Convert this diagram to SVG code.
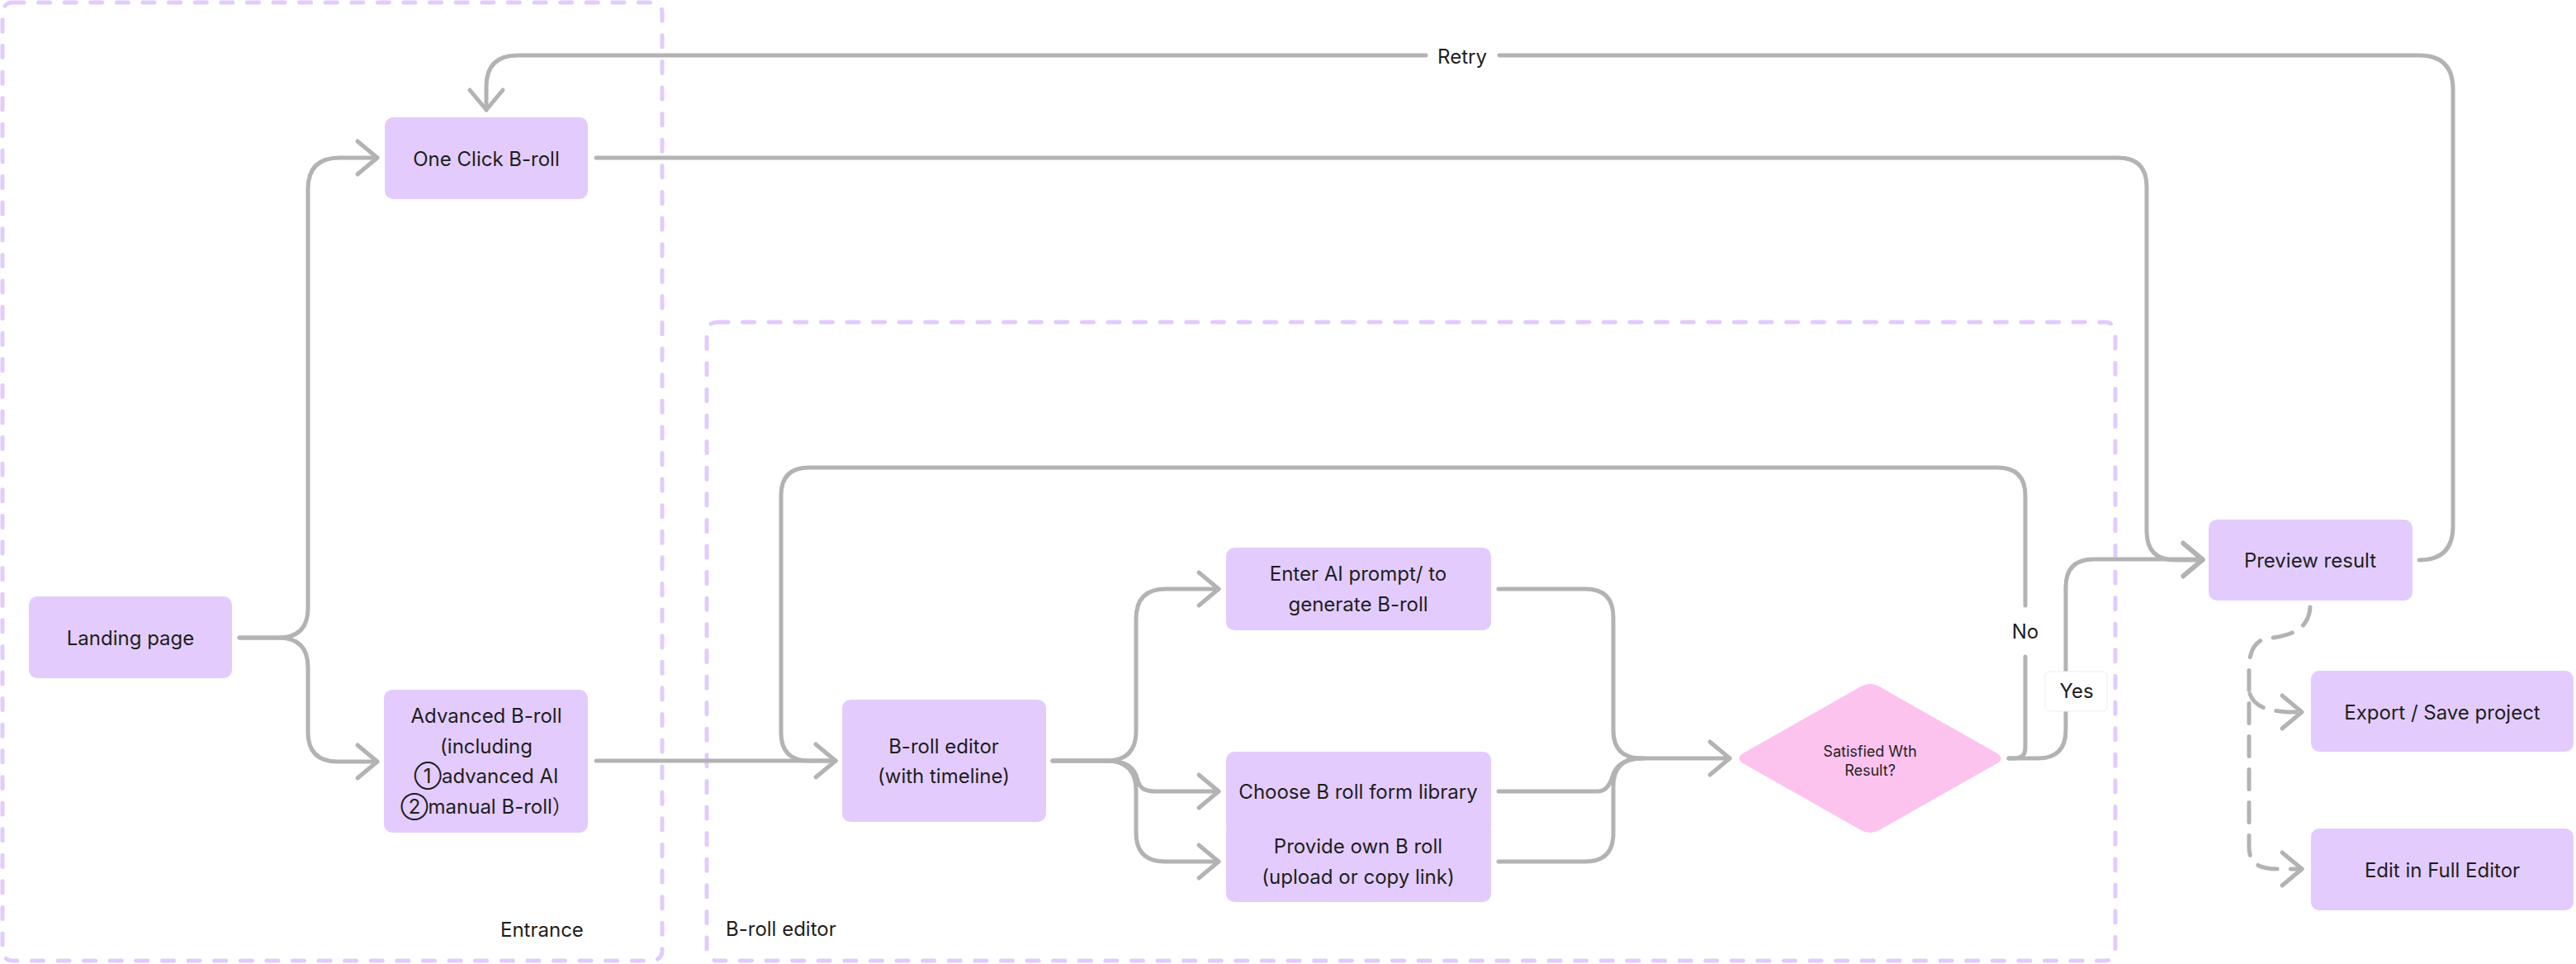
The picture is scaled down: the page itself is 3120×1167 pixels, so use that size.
<svg xmlns="http://www.w3.org/2000/svg" width="3120" height="1167" viewBox="0 0 3120 1167">
<style>
.bg{fill:#ffffff}
.container{fill:none;stroke:#E2CBFD;stroke-width:5;stroke-dasharray:14 17.6;stroke-linecap:round}
.node{fill:#E3CCFD}
.dia{fill:#FDC3EF}
.t{font-family:Inter,"Noto Sans","Noto Sans CJK SC",sans-serif;font-size:24px;fill:#1E1E1E;text-anchor:middle}
.ts{font-family:Inter,"Noto Sans",sans-serif;font-size:18px;fill:#1E1E1E;text-anchor:middle}
.lab{font-family:Inter,"Noto Sans",sans-serif;font-size:24px;fill:#1E1E1E}
.c{fill:none;stroke:#B3B3B3;stroke-width:5;stroke-linecap:round;stroke-linejoin:round}
.d{fill:none;stroke:#B3B3B3;stroke-width:5;stroke-linecap:round;stroke-dasharray:24 16}
.a{fill:none;stroke:#B3B3B3;stroke-width:5;stroke-linecap:round;stroke-linejoin:round}
</style>
<defs>
<marker id="arr" markerUnits="userSpaceOnUse" viewBox="0 0 40 50" markerWidth="40" markerHeight="50" refX="30" refY="25" orient="auto">
<path class="a" d="M6 5 L30 25 L6 45"/>
</marker>
</defs>
<rect class="bg" x="0" y="0" width="3120" height="1167"/>

<g id="containers">
<g id="entrance-group">
<rect class="container" x="3" y="3" width="799" height="1160" rx="12"/>
<text class="lab" x="606" y="1134">Entrance</text>
</g>
<g id="broll-editor-group">
<rect class="container" x="856" y="390" width="1706" height="773" rx="12"/>
<text class="lab" x="879" y="1133">B-roll editor</text>
</g>
</g>

<g id="connectors">
<path class="c" d="M290 772 H337 Q373 772 373 736 V229 Q373 191 411 191 H457" marker-end="url(#arr)"/>
<path class="c" d="M290 772 H337 Q373 772 373 808 V886 Q373 922 409 922 H457" marker-end="url(#arr)"/>
<path class="c" d="M722 191 H2565 Q2600 191 2600 226 V643 Q2600 678 2635 678 H2668" marker-end="url(#arr)"/>
<path class="c" d="M722 921 H1012" marker-end="url(#arr)"/>
<path class="c" d="M1275 921 H1340 Q1376 921 1376 885 V749 Q1376 713 1412 713 H1476" marker-end="url(#arr)"/>
<path class="c" d="M1275 921 H1343 C1365 921 1375 930 1378 945 C1381 955 1387 958 1400 958 H1476" marker-end="url(#arr)"/>
<path class="c" d="M1275 921 H1340 Q1376 921 1376 957 V1008 Q1376 1043 1411 1043 H1476" marker-end="url(#arr)"/>
<path class="c" d="M1815 713 H1920 Q1954 713 1954 747 V884 Q1954 918 1988 918 H2095" marker-end="url(#arr)"/>
<path class="c" d="M1815 958 H1935 C1945 958 1950 950 1953 940 C1957 926 1968 918 1990 918"/>
<path class="c" d="M1815 1043 H1920 Q1954 1043 1954 1009 V952 Q1954 918 1988 918"/>
<path class="c" d="M2433 918 H2440 Q2453 918 2453 905 V795"/>
<path class="c" d="M2453 733 V600 Q2453 566 2419 566 H980 Q946 566 946 600 V887 Q946 921 980 921 H1012"/>
<path class="c" d="M2433 918 H2468 Q2502 918 2502 884 V861"/>
<path class="c" d="M2502 813 V711 Q2502 677 2536 677 H2668" marker-end="url(#arr)"/>
<path class="c" d="M2930 678 Q2971 678 2971 637 V108 Q2971 67 2930 67 H1816"/>
<path class="c" d="M1727 67 H627 Q589 67 589 105 V133" marker-end="url(#arr)"/>
<path class="d" d="M2798 735 C2796 765 2770 770 2745 773 C2730 776 2724 790 2724 810 V1025 C2724 1045 2735 1052 2760 1052 H2788" marker-end="url(#arr)"/>
<path class="d" d="M2725 840 C2730 855 2745 860 2770 862 H2788" marker-end="url(#arr)"/>
<text class="t" x="1771" y="77">Retry</text>
<text class="t" x="2453" y="773">No</text>
<rect x="2477" y="813" width="75" height="48" rx="5" fill="#ffffff" stroke="#F1EAFC" stroke-width="1"/>
<text class="t" x="2515" y="845">Yes</text>
</g>

<g id="landing">
<rect class="node" x="35" y="722" width="246" height="99" rx="10"/>
<text class="t" x="158" y="781">Landing page</text>
</g>
<g id="one-click">
<rect class="node" x="466" y="142" width="246" height="99" rx="10"/>
<text class="t" x="589" y="201">One Click B-roll</text>
</g>
<g id="advanced">
<rect class="node" x="465" y="835" width="247" height="173" rx="10"/>
<text class="t" x="589" y="875">Advanced B-roll</text>
<text class="t" x="589" y="912">(including</text>
<text class="t" x="589" y="948">①advanced AI</text>
<text class="t" x="589" y="985">②manual B-roll）</text>
</g>
<g id="broll-editor">
<rect class="node" x="1020" y="847" width="247" height="148" rx="10"/>
<text class="t" x="1143" y="912">B-roll editor</text>
<text class="t" x="1143" y="948">(with timeline)</text>
</g>
<g id="enter-ai">
<rect class="node" x="1485" y="663" width="321" height="100" rx="10"/>
<text class="t" x="1645" y="703">Enter AI prompt/ to</text>
<text class="t" x="1645" y="740">generate B-roll</text>
</g>
<g id="choose">
<rect class="node" x="1485" y="910" width="321" height="100" rx="10"/>
<text class="t" x="1645" y="967">Choose B roll form library</text>
</g>
<g id="provide">
<rect class="node" x="1485" y="995" width="321" height="97" rx="10"/>
<text class="t" x="1645" y="1033">Provide own B roll</text>
<text class="t" x="1645" y="1070">(upload or copy link)</text>
</g>
<g id="satisfied">
<path class="dia" d="M2265 828 Q2271 828 2276 831 L2419 912 Q2428 918 2419 924 L2276 1005 Q2265 1011 2254 1005 L2111 924 Q2102 918 2111 912 L2254 831 Q2259 828 2265 828 Z"/>
<text class="ts" x="2265" y="916">Satisfied Wth</text>
<text class="ts" x="2265" y="939">Result?</text>
</g>
<g id="preview">
<rect class="node" x="2675" y="629" width="247" height="98" rx="10"/>
<text class="t" x="2798" y="687">Preview result</text>
</g>
<g id="export">
<rect class="node" x="2799" y="812" width="318" height="98" rx="10"/>
<text class="t" x="2958" y="871">Export / Save project</text>
</g>
<g id="edit-full">
<rect class="node" x="2799" y="1003" width="318" height="99" rx="10"/>
<text class="t" x="2958" y="1062">Edit in Full Editor</text>
</g>
</svg>
